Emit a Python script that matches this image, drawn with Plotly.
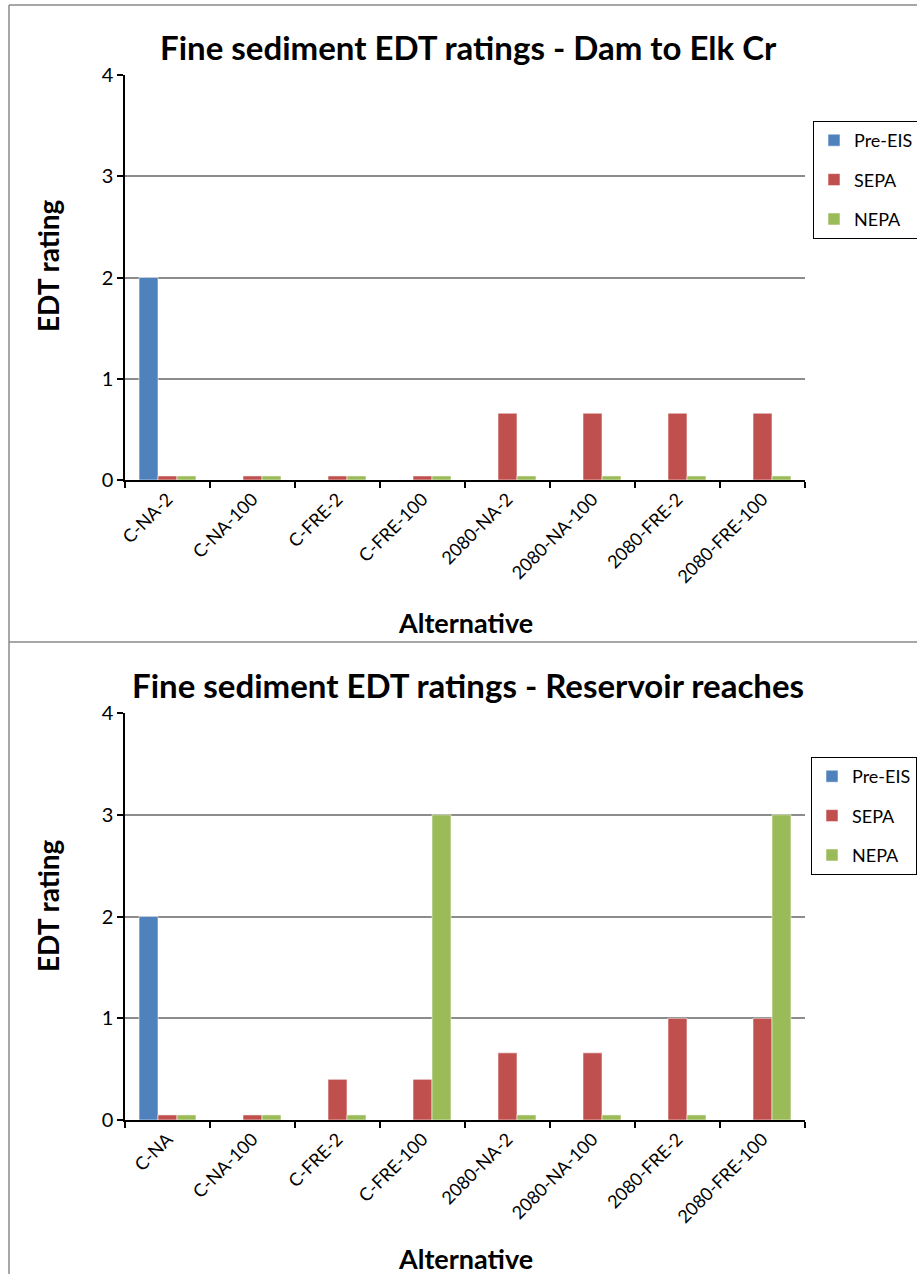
import plotly.graph_objects as go

W, H = 917, 1274

# Top chart: Dam to Elk Cr
cats_top = ["C-NA-2", "C-NA-100", "C-FRE-2", "C-FRE-100",
            "2080-NA-2", "2080-NA-100", "2080-FRE-2", "2080-FRE-100"]
pre_top = [2, 0, 0, 0, 0, 0, 0, 0]
sepa_top = [0.04, 0.04, 0.04, 0.04, 0.66, 0.66, 0.66, 0.66]
nepa_top = [0.04, 0.04, 0.04, 0.04, 0.04, 0.04, 0.04, 0.04]

# Bottom chart: Reservoir reaches
cats_bot = ["C-NA", "C-NA-100", "C-FRE-2", "C-FRE-100",
            "2080-NA-2", "2080-NA-100", "2080-FRE-2", "2080-FRE-100"]
pre_bot = [2, 0, 0, 0, 0, 0, 0, 0]
sepa_bot = [0.05, 0.05, 0.4, 0.4, 0.66, 0.66, 1, 1]
nepa_bot = [0.05, 0.05, 0.05, 3, 0.05, 0.05, 0.05, 3]

series_names = ["Pre-EIS", "SEPA", "NEPA"]
colors = ["#4F81BD", "#C0504D", "#9BBB59"]
y_ticks = [0, 1, 2, 3, 4]

FONT = "Lato"


def px(x):
    return x / W


def py(y):
    return 1 - y / H


fig = go.Figure()

panels = [
    (cats_top, [pre_top, sepa_top, nepa_top], "x", "y", "legend"),
    (cats_bot, [pre_bot, sepa_bot, nepa_bot], "x2", "y2", "legend2"),
]
for cats, vals, xa, ya, lg in panels:
    for name, v, c in zip(series_names, vals, colors):
        fig.add_trace(go.Bar(
            x=cats, y=v, name=name, xaxis=xa, yaxis=ya, legend=lg,
            legendgroup=lg + name,
            marker=dict(color=c, line=dict(color="rgba(255,255,255,0.55)", width=1)),
        ))

x_common = dict(
    type="category", showline=True, linecolor="black", linewidth=1.5,
    ticks="outside", ticklen=6, tickcolor="black", tickwidth=1.5,
    tickson="boundaries", tickangle=-45, showgrid=False,
    tickfont=dict(family=FONT, size=18, color="black"),
    domain=[px(125), px(805)], zeroline=False,
)
y_common = dict(
    range=[0, 4], tickvals=y_ticks, showline=True, linecolor="black", linewidth=1.5,
    ticks="outside", ticklen=6, tickcolor="black", tickwidth=1.5,
    showgrid=True, gridcolor="#8c8c8c", gridwidth=1.5, zeroline=False,
    tickfont=dict(family=FONT, size=20, color="black"),
)

legend_common = dict(
    bordercolor="black", borderwidth=1, bgcolor="white",
    font=dict(family=FONT, size=18, color="black"),
    xanchor="left", yanchor="top", tracegroupgap=13, itemwidth=30,
)

fig.update_layout(
    width=W, height=H, margin=dict(l=0, r=0, t=0, b=0, autoexpand=False),
    paper_bgcolor="white", plot_bgcolor="white",
    barmode="group", bargap=0.33, bargroupgap=0,
    xaxis=dict(**x_common, anchor="y"),
    yaxis=dict(**y_common, domain=[py(480), py(75)], anchor="x"),
    xaxis2=dict(**x_common, anchor="y2"),
    yaxis2=dict(**y_common, domain=[py(1120), py(713)], anchor="x2"),
    legend=dict(**legend_common, x=px(813), y=py(121)),
    legend2=dict(**legend_common, x=px(811), y=py(757)),
)

# Titles and axis titles
ann = []
for title, ty, yt_y, xt_y in [
    ("Fine sediment EDT ratings - Dam to Elk Cr", 47, 266, 622),
    ("Fine sediment EDT ratings - Reservoir reaches", 685, 906, 1258),
]:
    ann.append(dict(text=f"<b>{title}</b>", x=px(468), y=py(ty), xref="paper", yref="paper",
                    showarrow=False, xanchor="center", yanchor="middle",
                    font=dict(family=FONT, size=33, color="black")))
    ann.append(dict(text="<b>EDT rating</b>", x=px(48), y=py(yt_y), xref="paper", yref="paper",
                    showarrow=False, xanchor="center", yanchor="middle", textangle=-90,
                    font=dict(family=FONT, size=28, color="black")))
    ann.append(dict(text="<b>Alternative</b>", x=px(465), y=py(xt_y), xref="paper", yref="paper",
                    showarrow=False, xanchor="center", yanchor="middle",
                    font=dict(family=FONT, size=27, color="black")))
fig.update_layout(annotations=ann)

# Chart-area frames
frame = dict(type="line", xref="paper", yref="paper", line=dict(color="#8a8a8a", width=1.5))
fig.update_layout(shapes=[
    dict(frame, x0=px(9), x1=px(9), y0=0, y1=py(5)),
    dict(frame, x0=px(9), x1=1, y0=py(5), y1=py(5)),
    dict(frame, x0=px(9), x1=1, y0=py(642), y1=py(642)),
])

fig.write_html("out.html")
